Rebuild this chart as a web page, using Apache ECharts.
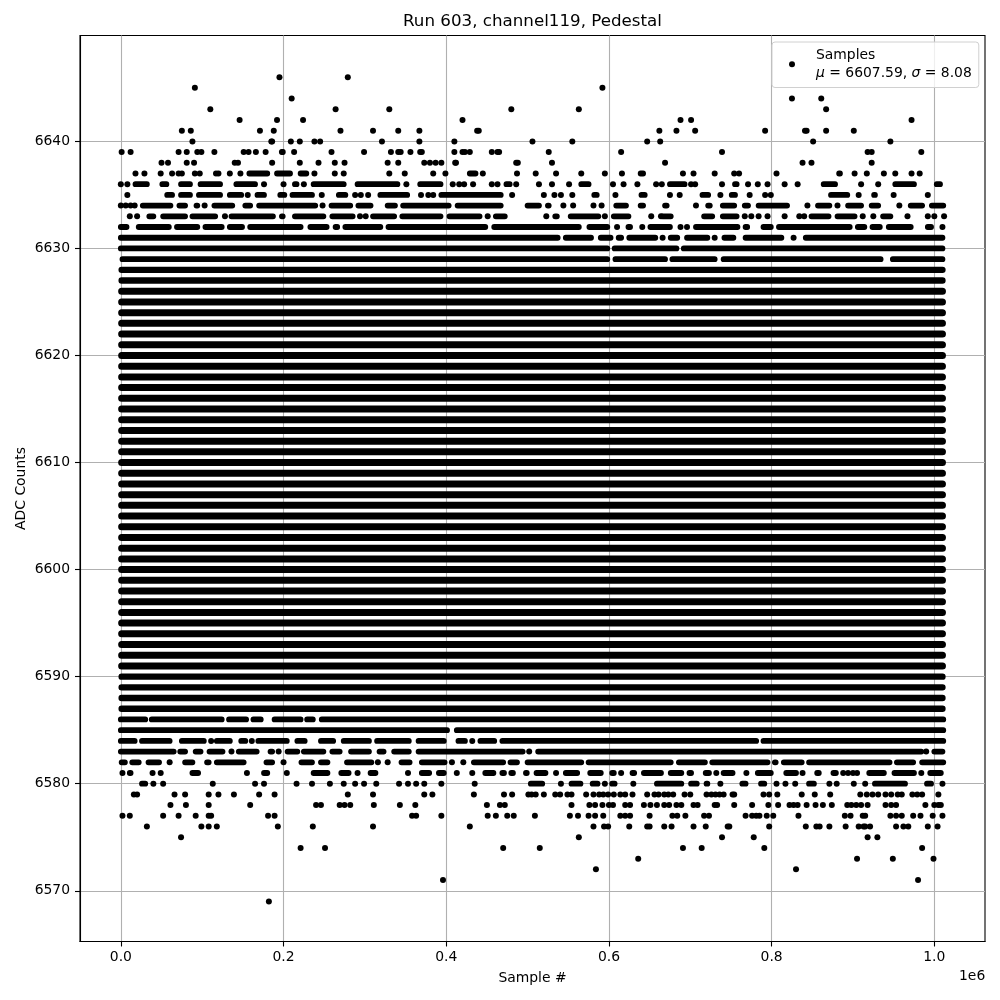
<!DOCTYPE html>
<html><head><meta charset="utf-8">
<style>html,body{margin:0;padding:0;background:#fff}#c{width:1000px;height:1000px}</style>
<script src="https://cdn.jsdelivr.net/npm/echarts@6/dist/echarts.min.js"></script>
</head><body><div id="c"></div>
<script>
// x values are in thousands of samples; y is the ADC level.
const xTicks = [0, 200000, 400000, 600000, 800000, 1000000];
const yTicks = [6570, 6580, 6590, 6600, 6610, 6620, 6630, 6640];

// isolated points per ADC level
const dots6646 = [195,279];
const dots6645 = [91,592];
const dots6644 = [210,825,861];
const dots6643 = [110,264,330,480,563,867];
const dots6642 = [146,192,224,420,688,701,972];
const dots6641 = [75,86,171,188,270,310,341,367,438,440,662,683,706,792,841,843,867,901];
const dots6640 = [88,185,186,209,220,238,245,321,367,410,506,555,647,663,851,946];
const dots6639 = [1,12,71,81,94,99,115,151,157,166,178,198,199,213,259,299,332,341,344,356,368,370,410,420,423,429,456,463,465,526,615,739,918,923,984];
const dots6638 = [50,58,81,90,140,144,186,220,243,263,275,328,341,373,380,387,394,411,412,486,488,530,669,838,849,923];
const dots6637 = [18,29,49,63,71,75,91,97,117,120,134,147,238,263,274,330,349,384,399,445,487,510,535,566,595,616,691,704,730,754,760,806,902,917,938,952,972,982];
const dots6636 = [0,8,176,200,225,351,408,416,422,433,456,463,486,514,530,551,605,618,635,658,665,701,706,739,771,783,795,816,832,910,931];
const dots6635 = [8,156,247,288,295,304,369,378,384,481,520,533,541,555,608,675,687,737,773,792,799,907,950,992];
const dots6634 = [0,6,12,17,103,248,544,556,581,591,707,844,881,957];
const dots6633 = [11,20,128,294,301,451,523,595,652,664,767,775,784,795,816,834,840,912,925,967,992,1000,1012];
const dots6632 = [610,641,688,696,1010];
const dots6631 = [666,730,827];
const dots6584 = [111,161,432];
const dots6583 = [136,194,502,990];
const dots6582 = [60,200,316,328,407,421];
const dots6581 = [2,39,49,155,204,291,353,413,432,535,615,732,769,838,888,894,900,905,984];
const dots6580 = [40,52,113,165,176,216,235,257,274,288,299,314,342,353,363,373,394,435,541,595,630,737,806,817,829,871,880,901,915,1010];
const dots6579 = [16,20,66,79,108,120,139,170,189,279,310,373,383,434,471,481,501,505,510,520,534,540,549,554,572,581,588,593,599,606,614,620,629,647,656,661,668,673,679,693,700,720,726,731,736,741,752,754,790,797,807,837,853,872,909,917,924,931,940,947,955,960,973,979,985,1005];
const dots6578 = [61,80,108,159,240,246,269,275,282,311,343,362,450,466,472,554,576,583,592,600,605,620,626,643,651,659,668,674,683,689,704,709,730,733,754,776,796,808,822,827,832,843,854,863,874,893,898,904,910,918,940,947,953,989,1000,1005,1008];
const dots6577 = [2,11,52,71,92,108,111,181,189,358,363,394,451,461,475,483,509,552,562,575,583,593,614,620,626,650,678,684,694,717,723,768,776,781,785,794,802,833,890,897,912,915,946,953,960,974,983,998,1010];
const dots6576 = [32,99,108,118,193,236,310,429,581,594,599,625,647,650,668,677,704,719,746,748,797,842,855,859,871,891,907,913,915,921,953,962,968,992,1004];
const dots6575 = [74,563,739,778,918,930];
const dots6574 = [221,251,470,515,691,714,791,985];
const dots6573 = [636,905,949,999];
const dots6572 = [584,830];
const dots6571 = [396,980];
const dots6569 = [182];

// unbroken stretches of samples per ADC level, as start,end pairs, read from their outer edges
const runs6637 = [155,183,189,211,218,231,315,319,335,340,356,360,407,410,426,439,502,504,544,547,556,561,636,645,880,887];
const runs6636 = [15,35,48,59,71,88,95,125,139,168,211,219,234,277,288,343,365,396,471,481,563,578,672,696,717,723,752,760,861,881,896,901,949,978,984,988,1000,1010];
const runs6635 = [42,47,54,66,71,88,93,125,131,151,165,179,182,187,193,204,208,238,265,279,316,355,391,470,499,502,562,565,579,588,626,632,637,647,661,664,712,725,748,758,781,786,870,896,923,930,977,983,1000,1006];
const runs6634 = [24,64,69,82,90,97,112,140,150,162,167,242,256,285,289,310,315,319,325,340,344,406,411,470,482,487,497,517,522,529,606,624,636,645,666,674,695,700,719,727,737,757,764,774,781,822,854,874,891,913,920,934,968,988,994,1014];
const runs6633 = [32,43,49,82,85,119,133,190,195,202,211,252,257,288,307,339,343,396,401,444,458,475,487,491,508,514,531,539,550,590,603,627,640,646,663,679,698,703,714,730,737,760,846,873,878,905,934,949];
const runs6632 = [0,10,19,62,66,97,101,127,131,152,156,224,230,256,261,269,273,322,326,451,456,566,573,601,621,629,648,678,704,761,765,773,787,802,806,899,903,917,921,936,941,974,980,985,989,999];
const runs6631 = [0,540,544,581,587,605,609,618,622,660,673,687,693,724,739,756,765,815,817,821,839,1013];
const runs6630 = [0,601,604,686,689,1013];
const runs6629 = [2,601,605,672,675,733,738,937,946,1013];
const runs6586 = [0,33,35,127,130,157,160,175,186,224,226,239,244,1014];
const runs6585 = [0,404,410,1014];
const runs6584 = [0,20,23,63,72,105,115,137,145,156,166,207,214,229,243,264,271,308,312,357,363,400,412,426,439,462,466,784,787,1014];
const runs6583 = [0,68,70,82,89,101,106,128,142,170,181,189,202,220,222,252,257,272,280,308,315,326,333,357,363,497,510,987,997,1013];
const runs6582 = [1,8,11,25,31,50,76,91,103,111,115,154,176,189,219,238,243,257,275,311,342,358,367,401,431,473,476,490,497,569,572,679,683,721,724,798,801,808,812,840,843,948,951,977,982,1014];
const runs6581 = [8,15,23,29,85,98,173,183,234,257,268,283,304,316,320,326,367,382,388,400,445,461,466,474,477,485,495,502,508,525,544,564,574,593,601,609,626,634,640,667,673,692,696,704,716,726,738,755,780,802,815,833,853,861,873,882,917,941,948,978,992,1011];
const runs6580 = [23,33,449,455,477,483,501,521,551,568,577,589,601,610,656,692,698,711,717,724,747,753,761,771,784,794,843,855,924,967,988,999];
// levels whose whole width is filled with samples
const coreLevels = [6591,6592,6593,6594,6595,6596,6597,6598,6599,6600,6601,6602,6603,6604,6605,6606,6607,6608,6609,6610,6611,6612,6613,6614,6615,6616,6617,6618,6619,6620,6621,6622,6623,6624,6625,6626];
const edgeLevels = [6587,6588,6589,6590,6627,6628];
const filledRun = [1,1010];

const dotTable = [[6646,dots6646],[6645,dots6645],[6644,dots6644],[6643,dots6643],[6642,dots6642],[6641,dots6641],[6640,dots6640],[6639,dots6639],[6638,dots6638],[6637,dots6637],[6636,dots6636],[6635,dots6635],[6634,dots6634],[6633,dots6633],[6632,dots6632],[6631,dots6631],[6584,dots6584],[6583,dots6583],[6582,dots6582],[6581,dots6581],[6580,dots6580],[6579,dots6579],[6578,dots6578],[6577,dots6577],[6576,dots6576],[6575,dots6575],[6574,dots6574],[6573,dots6573],[6572,dots6572],[6571,dots6571],[6569,dots6569]];
const runTable = [[6637,runs6637],[6636,runs6636],[6635,runs6635],[6634,runs6634],[6633,runs6633],[6632,runs6632],[6631,runs6631],[6630,runs6630],[6629,runs6629],[6586,runs6586],[6585,runs6585],[6584,runs6584],[6583,runs6583],[6582,runs6582],[6581,runs6581],[6580,runs6580]];

const pts = [];
dotTable.forEach(([lvl,xs])=>xs.forEach(x=>pts.push([x*1000,lvl])));
// the line's round cap adds its radius at each end, so a run read from its edges is pulled in by that much
const capInset = 3;
function toSegs(table,inset){
  const segs = [];
  table.forEach(([lvl,r])=>{for(let i=0;i<r.length;i+=2){
    let a = r[i]<=2 ? r[i] : r[i]+inset, b = r[i+1]-inset;
    if(b<=a){const m=(r[i]+r[i+1])/2; a=m-0.3; b=m+0.3;}
    segs.push([a*1000,lvl],[b*1000,lvl],[null,null]);
  }});
  return segs;
}
const sparseSegs = toSegs(runTable,capInset);
const coreSegs = toSegs(coreLevels.map(l=>[l,filledRun]),0);
const edgeSegs = toSegs(edgeLevels.map(l=>[l,filledRun]),0);

const font = 'DejaVu Sans';
const chart = echarts.init(document.getElementById('c'),null,{renderer:'canvas'});
const lineBase = {type:'line',showSymbol:false,symbol:'none',connectNulls:false,sampling:false,silent:true,z:3};
chart.setOption({
  animation:false,
  backgroundColor:'#fff',
  textStyle:{fontFamily:font,color:'#000'},
  title:{text:'Run 603, channel119, Pedestal',left:527.5,top:8,textAlign:'center',
    textStyle:{fontFamily:font,fontSize:16.7,fontWeight:'normal',color:'#000'}},
  grid:{left:80,right:15,top:35.5,bottom:58.5,show:true,borderColor:'#000',borderWidth:1.1,backgroundColor:'#fff'},
  legend:{data:['Samples'],left:772,top:42,orient:'vertical',padding:[6.5,7,7.5,17],itemWidth:38,itemHeight:6,
    icon:'circle',backgroundColor:'rgba(255,255,255,0.8)',borderColor:'#d0d0d0',borderWidth:1,borderRadius:3,
    formatter:()=>'{t|Samples}\n{i|μ}{t| = 6607.59, }{i|σ}{t| = 8.08}',
    textStyle:{rich:{t:{fontFamily:font,fontSize:13.9,lineHeight:17.5,color:'#000'},
      i:{fontFamily:font,fontStyle:'italic',fontSize:13.9,lineHeight:17.5,color:'#000'}}}},
  xAxis:{type:'value',min:-50200,max:1062300,name:'Sample #',nameLocation:'middle',nameGap:30,
    nameTextStyle:{fontFamily:font,fontSize:13.9,color:'#000'},
    axisLine:{show:true,onZero:false,lineStyle:{color:'#000',width:1.1}},
    axisTick:{show:true,length:5,customValues:xTicks,lineStyle:{color:'#000',width:1.1}},
    axisLabel:{color:'#000',fontFamily:font,fontSize:13.9,margin:9,customValues:xTicks,formatter:v=>(v/1e6).toFixed(1)},
    splitLine:{show:true,lineStyle:{color:'#b0b0b0',width:1.1}}},
  yAxis:{type:'value',min:6565.26,max:6649.89,name:'ADC Counts',nameLocation:'middle',nameGap:52,nameMoveOverlap:false,
    nameTextStyle:{fontFamily:font,fontSize:13.9,color:'#000'},
    axisLine:{show:true,onZero:false,lineStyle:{color:'#000',width:1.1}},
    axisTick:{show:true,length:5,customValues:yTicks,lineStyle:{color:'#000',width:1.1}},
    axisLabel:{color:'#000',fontFamily:font,fontSize:13.9,margin:10,customValues:yTicks,formatter:v=>String(v)},
    splitLine:{show:true,lineStyle:{color:'#b0b0b0',width:1.1}}},
  graphic:[{type:'text',left:959,top:969,style:{text:'1e6',font:'13.9px "DejaVu Sans"',fill:'#000'}}],
  series:[
    Object.assign({name:'Core levels',data:coreSegs,lineStyle:{color:'#000',width:7,cap:'round',join:'round'}},lineBase),
    Object.assign({name:'Edge levels',data:edgeSegs,lineStyle:{color:'#000',width:6.4,cap:'round',join:'round'}},lineBase),
    Object.assign({name:'Runs',data:sparseSegs,lineStyle:{color:'#000',width:5.8,cap:'round',join:'round'}},lineBase),
    {name:'Samples',type:'scatter',data:pts,symbol:'circle',symbolSize:6,silent:true,z:4,itemStyle:{color:'#000',opacity:1}}
  ]
});
</script></body></html>
